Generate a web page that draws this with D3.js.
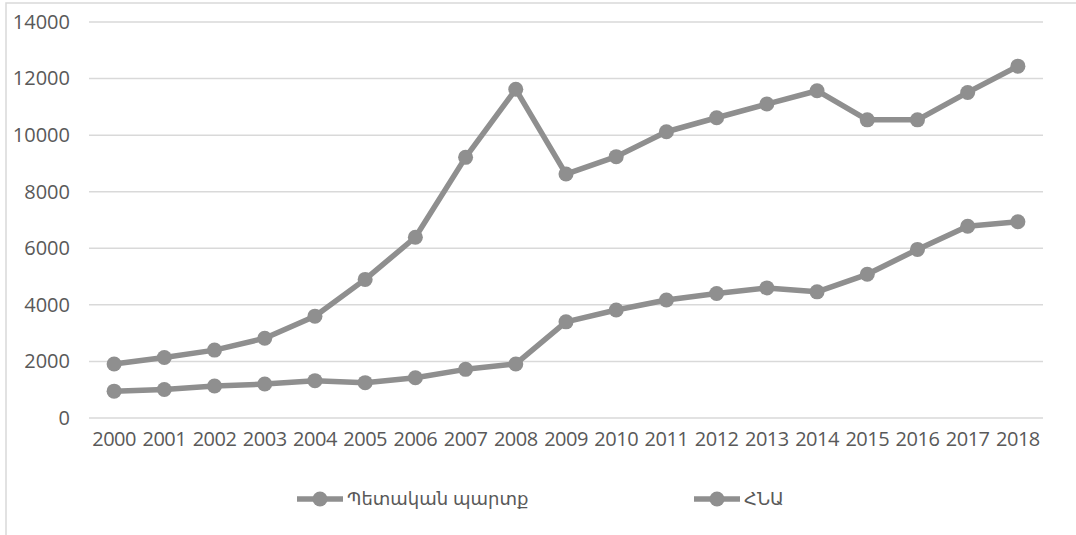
<!DOCTYPE html>
<html>
<head>
<meta charset="utf-8">
<script src="https://cdn.jsdelivr.net/npm/d3@7"></script>
<style>
  html, body { margin: 0; padding: 0; background: #fff; }
  svg { display: block; }
</style>
</head>
<body>
<div id="chart"></div>
<script>
const years = ['2000','2001','2002','2003','2004','2005','2006','2007','2008','2009',
  '2010','2011','2012','2013','2014','2015','2016','2017','2018'];
const debt = [950, 1010, 1130, 1200, 1320, 1250, 1425, 1720, 1910, 3400,
  3820, 4170, 4400, 4600, 4460, 5080, 5960, 6780, 6940];
const gdp = [1910, 2140, 2400, 2820, 3600, 4900, 6390, 9215, 11620, 8625,
  9240, 10120, 10615, 11100, 11570, 10540, 10540, 11510, 12440];
const yTicks = [0, 2000, 4000, 6000, 8000, 10000, 12000, 14000];
const seriesNames = ['Պետական պարտք', 'ՀՆԱ'];

const W = 1076, H = 535;
const margin = {top: 22, right: 33, bottom: 117, left: 89};
const width = W - margin.left - margin.right;
const height = H - margin.top - margin.bottom;
const grey = '#8f8f8f';
const font = '"Open Sans", "DejaVu Sans", sans-serif';

const svg = d3.select('#chart').append('svg')
  .attr('width', W).attr('height', H);

// outer chart frame
svg.append('rect')
  .attr('x', 6).attr('y', 3)
  .attr('width', W + 10).attr('height', H + 10)
  .attr('fill', 'none').attr('stroke', '#d9d9d9').attr('stroke-width', 1.5);

const g = svg.append('g')
  .attr('transform', `translate(${margin.left},${margin.top})`);

const x = d3.scaleBand().domain(years).range([0, width]);
const y = d3.scaleLinear().domain([0, 14000]).range([height, 0]);

// gridlines
g.append('g')
  .selectAll('line')
  .data(yTicks)
  .join('line')
  .attr('x1', 0).attr('x2', width)
  .attr('y1', d => y(d)).attr('y2', d => y(d))
  .attr('stroke', '#d9d9d9').attr('stroke-width', 1.5);

// y axis labels
const yAxis = g.append('g')
  .call(d3.axisLeft(y).tickValues(yTicks).tickFormat(d3.format('d')).tickSize(0).tickPadding(19));
yAxis.select('.domain').remove();
yAxis.selectAll('text')
  .attr('fill', '#595959').style('font-family', font).style('font-size', '20px');

// x axis labels
const xAxis = g.append('g')
  .attr('transform', `translate(0,${height})`)
  .call(d3.axisBottom(x).tickSize(0).tickPadding(14));
xAxis.select('.domain').remove();
xAxis.selectAll('text')
  .attr('fill', '#595959').style('font-family', font).style('font-size', '20px')
  .style('letter-spacing', '-0.5px');

const cx = d => x(d) + x.bandwidth() / 2;
const line = d3.line()
  .x((d, i) => cx(years[i]))
  .y(d => y(d));

[debt, gdp].forEach(vals => {
  g.append('path')
    .datum(vals)
    .attr('fill', 'none')
    .attr('stroke', grey)
    .attr('stroke-width', 5.5)
    .attr('stroke-linejoin', 'round')
    .attr('d', line);
  g.append('g')
    .selectAll('circle')
    .data(vals)
    .join('circle')
    .attr('cx', (d, i) => cx(years[i]))
    .attr('cy', d => y(d))
    .attr('r', 7.5)
    .attr('fill', grey);
});

// legend
const legendX = [297, 694];
const legend = svg.append('g');
seriesNames.forEach((name, i) => {
  const lg = legend.append('g').attr('transform', `translate(${legendX[i]},499)`);
  lg.append('line')
    .attr('x1', 0).attr('x2', 46)
    .attr('stroke', grey).attr('stroke-width', 5.5);
  lg.append('circle')
    .attr('cx', 23).attr('r', 7.5).attr('fill', grey);
  lg.append('text')
    .attr('x', 50).attr('dy', '0.35em')
    .attr('fill', '#595959')
    .style('font-family', font).style('font-size', '18px')
    .text(name);
});
</script>
</body>
</html>
